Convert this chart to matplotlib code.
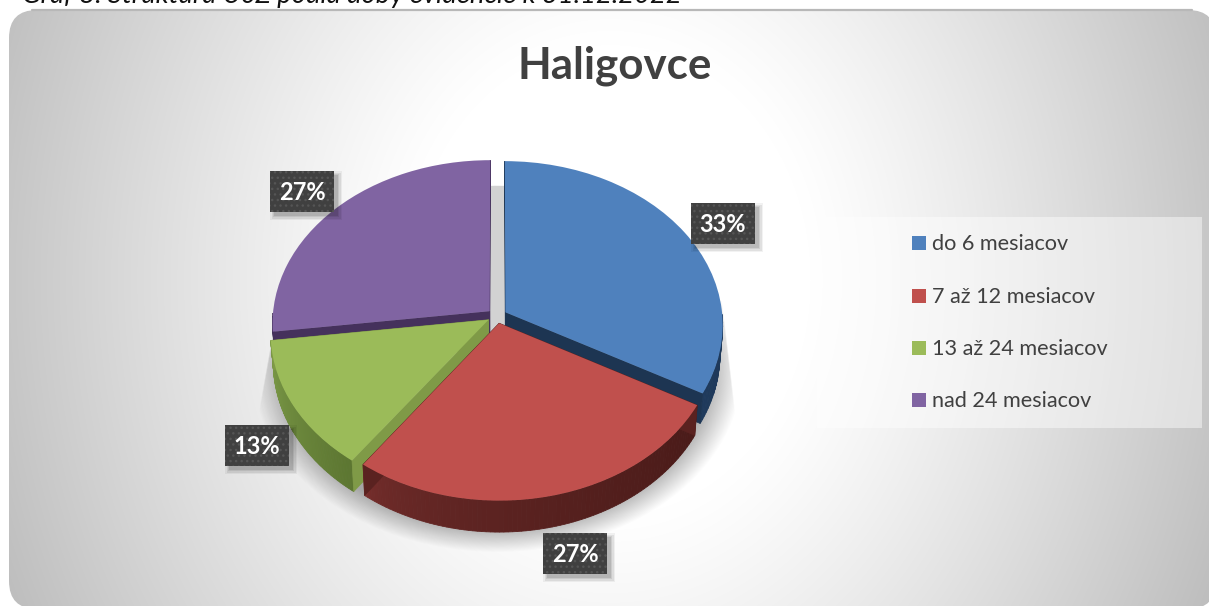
import numpy as np
import matplotlib
matplotlib.use("Agg")
import matplotlib.pyplot as plt
from matplotlib.colors import to_rgb
from matplotlib.patches import FancyBboxPatch, Polygon, Rectangle
from matplotlib.transforms import Transform

categories = ["do 6 mesiacov", "7 až 12 mesiacov", "13 až 24 mesiacov", "nad 24 mesiacov"]
values = [33, 27, 13, 27]
pct_labels = ["33%", "27%", "13%", "27%"]
title = "Haligovce"
caption = "Graf 8: Štruktúra UoZ podľa doby evidencie k 31.12.2022"
top_colors = ["#4f81bd", "#c0504d", "#9bbb59", "#8064a2"]
wall_light = ["#1f3a5c", "#7a302e", "#7c9a48", "#4e3a68"]
wall_dark = ["#1c3350", "#4a1b19", "#5c7631", "#3f2d55"]
cut_colors = ["#1d3552", "#5a2220", "#7f9a47", "#45315c"]
label_boxes = [(691, 203), (543, 533), (225, 425), (270, 171)]
legend_rows = [244, 297, 349, 401]

W, H = 1209, 606
plt.rcParams["font.family"] = ["Lato", "DejaVu Sans"]
fig = plt.figure(figsize=(W / 100, H / 100), dpi=100, facecolor="white")
ax = fig.add_axes([0, 0, 1, 1])

CX, CY, RX, RY, P, DEPTH = 497.0, 316.0, 217.0, 163.0, 0.075, 29.0


def project(x, y, z=0.0):
    x, y = np.asarray(x, float), np.asarray(y, float)
    k = 1 / (1 + P * y)
    return np.column_stack([CX + RX * x * k * (1 - 0.012 * z / DEPTH), CY - RY * y * k + z * k])


class Persp(Transform):
    input_dims = output_dims = 2
    is_affine = False
    has_inverse = False

    def transform_non_affine(self, v):
        v = np.asarray(v)
        return project(v[:, 0], v[:, 1])


wedges, _ = ax.pie(values, colors=top_colors, startangle=90, counterclock=False,
                   explode=[0.045] * len(values), radius=1)
ax.set_aspect("auto")
ax.axis("off")

# background card with radial gradient
yy, xx = np.mgrid[0:H, 0:W]
r = np.hypot(xx - 610, (yy - 280) * 0.85)
t = np.clip((r - 200) / 480, 0, 1)
shade = 1 - 0.27 * t ** 1.15
bg = ax.imshow(np.dstack([shade] * 3), extent=(0, W, H, 0), aspect="auto", zorder=0.1,
               interpolation="bilinear")
ax.set_xlim(0, W)
ax.set_ylim(H, 0)
card = FancyBboxPatch((9, 10), W + 7 - 9, 599, boxstyle="round,pad=0,rounding_size=28",
                      fc="none", ec="none", zorder=0.2)
ax.add_patch(card)
bg.set_clip_path(card)
ax.plot([32, 1192], [10, 10], color="#b8b8b8", lw=1.6, zorder=0.3, solid_capstyle="round")

# soft shadow below the pie
e = np.hypot((xx - 497) / 245, (yy - 370) / 182)
sh = np.clip((1.0 - e) / 0.14, 0, 1) * 0.32
sh *= np.clip((722 + (yy - 300) * 0.118 - xx) / 1.5, 0, 1)
sh *= np.clip((xx - (272 - (yy - 333) * 0.18)) / 1.5, 0, 1)
sh *= (yy > 300)
ax.imshow(np.dstack([np.zeros_like(sh), np.zeros_like(sh), np.zeros_like(sh), sh]),
          extent=(0, W, H, 0), aspect="auto", zorder=0.5, interpolation="bilinear")
ax.set_xlim(0, W)
ax.set_ylim(H, 0)

# grey floor that shows through the gap between the slices
tt = np.linspace(0, 2 * np.pi, 120)
ax.add_patch(Polygon(project(0.85 * np.cos(tt), 0.85 * np.sin(tt)), closed=True,
                     fc="#d2d2d2", ec="none", zorder=0.8))

# pie: walls then top, back to front
order = [3, 0, 2, 1]
for rank, i in enumerate(order):
    w = wedges[i]
    cx, cy = w.center
    base = 1 + rank * 2
    th = np.radians(np.linspace(w.theta1, w.theta2, 90))
    px, py = cx + np.cos(th), cy + np.sin(th)
    top, bot = project(px, py, 0), project(px, py, DEPTH)
    nseg = len(th) - 1
    light, dark = np.array(to_rgb(wall_light[i])), np.array(to_rgb(wall_dark[i]))
    for j in range(nseg):
        if np.sin(th[j]) > -0.02 and np.sin(th[j + 1]) > -0.02:
            continue
        f = (j / nseg) ** (0.45 if i == 1 else 1.0)
        c = light * (1 - f) + dark * f
        ax.add_patch(Polygon([top[j], top[j + 1], bot[j + 1], bot[j]], closed=True,
                             fc=c, ec=c, lw=0.6, zorder=base))
    for ang in (w.theta1, w.theta2):
        a = np.radians(ang)
        ex, ey = cx + np.cos(a), cy + np.sin(a)
        q = np.vstack([project([cx, ex], [cy, ey], 0), project([ex, cx], [ey, cy], DEPTH)])
        ax.add_patch(Polygon(q, closed=True, fc=cut_colors[i], ec=cut_colors[i], lw=0.5,
                             zorder=base + 0.5))
    w.set_transform(Persp() + ax.transData)
    w.set_zorder(base + 1)
    w.set_clip_on(False)

# title and caption
ax.text(615, 62, title, ha="center", va="center_baseline", fontsize=31.6, fontweight="bold",
        color="#404040", zorder=20)
ax.text(22, 3, caption, ha="left", va="baseline", fontsize=19.7, fontstyle="italic",
        color="#111111", zorder=20)

# percentage labels
for (bx, by), s in zip(label_boxes, pct_labels):
    for grow, al in ((4, 0.05), (2.5, 0.07), (1, 0.08), (0, 0.10)):
        ax.add_patch(Rectangle((bx + 4 - grow, by + 4 - grow), 64 + 2 * grow, 41 + 2 * grow,
                               fc="black", alpha=al, ec="none", zorder=18))
    ax.add_patch(Rectangle((bx, by), 64, 41, fc="#404040", ec="#555555", lw=0, hatch="...", zorder=19))
    ax.text(bx + 32, by + 22, s, ha="center", va="center", fontsize=17, fontweight="bold",
            color="white", zorder=20)

# legend
ax.add_patch(Rectangle((817, 217), 385, 211, fc="white", alpha=0.45, ec="none", zorder=3))
for c, s, y in zip(top_colors, categories, legend_rows):
    ax.add_patch(Rectangle((912, y - 8), 14, 14, fc=c, ec="none", zorder=4))
    ax.text(932, y, s, ha="left", va="center", fontsize=15.6, color="#404040", zorder=4)

fig.savefig("out.png", dpi=100, facecolor="white")
